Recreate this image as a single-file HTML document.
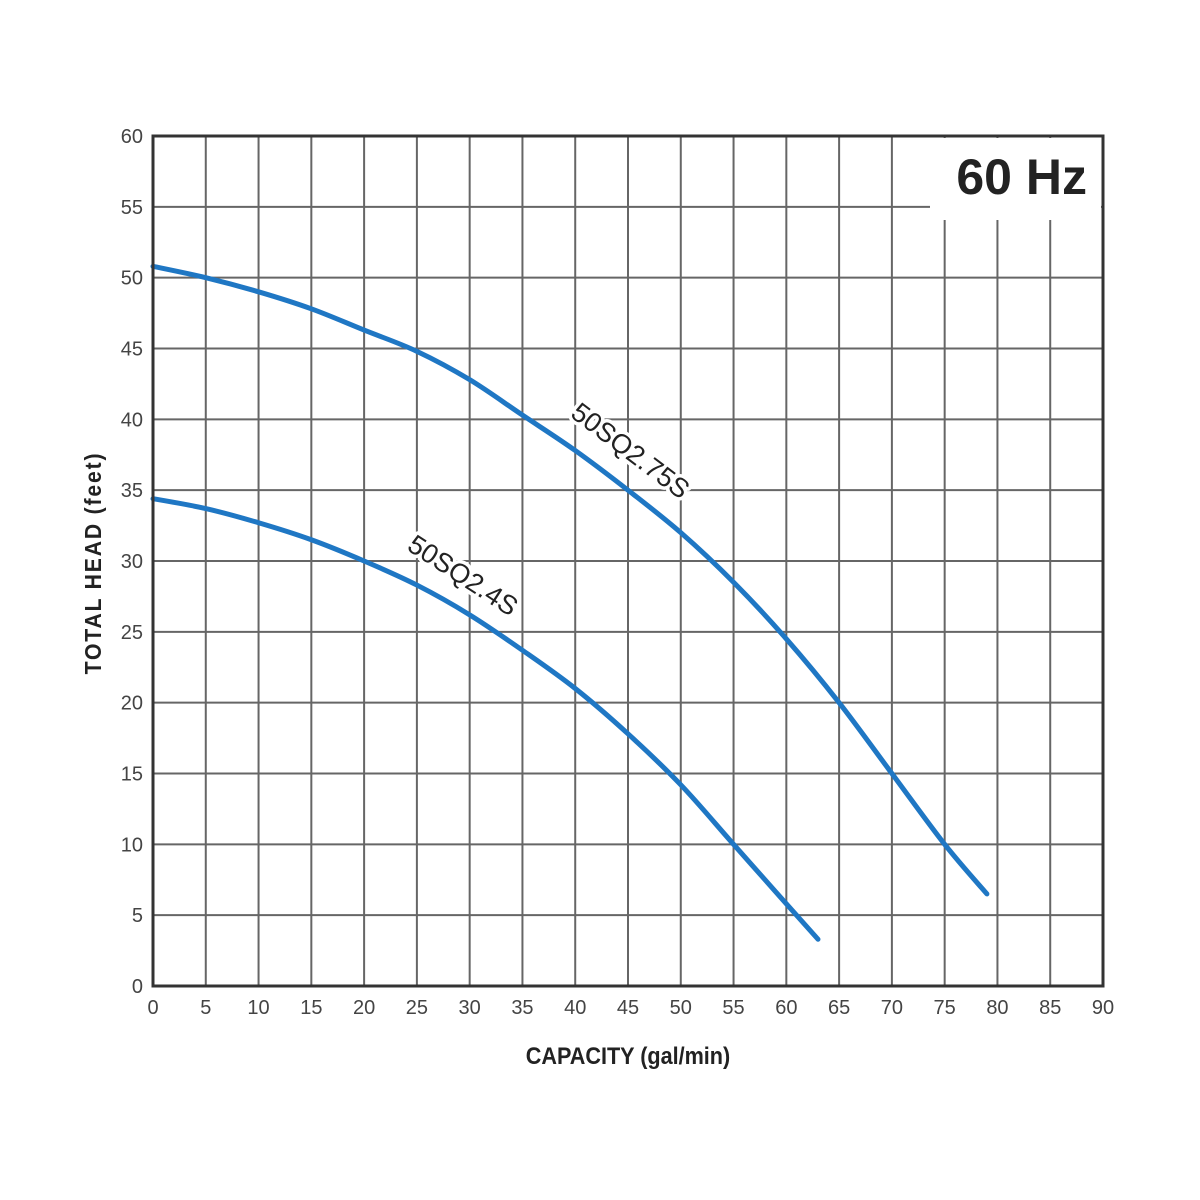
<!DOCTYPE html>
<html><head><meta charset="utf-8"><style>
html,body{margin:0;padding:0;background:#fff;}
svg{display:block;font-family:"Liberation Sans",sans-serif;}
</style></head><body>
<svg id="chart" width="1200" height="1200" viewBox="0 0 1200 1200">
<g id="grid"></g>
<g id="ticks"></g>
<g id="curves"></g>
<rect x="930" y="138" width="171" height="82" fill="#fff"/>
<text x="1087" y="194" text-anchor="end" font-size="50" font-weight="bold" fill="#222">60 Hz</text>
<rect x="153" y="136" width="950" height="850" fill="none" stroke="#333" stroke-width="3"/>
<text x="628" y="1064" text-anchor="middle" font-size="24" font-weight="bold" fill="#222" transform="translate(628 1064) scale(0.9 1) translate(-628 -1064)">CAPACITY (gal/min)</text>
<text x="0" y="0" text-anchor="middle" font-size="23" font-weight="bold" fill="#222" letter-spacing="2" transform="translate(101 563) rotate(-90) scale(0.92 1)">TOTAL HEAD (feet)</text>
</svg>
<script>
const xTicks=[0,5,10,15,20,25,30,35,40,45,50,55,60,65,70,75,80,85,90];
const yTicks=[0,5,10,15,20,25,30,35,40,45,50,55,60];
const flowA=[0,5,10,15,20,25,30,35,40,45,50,55,60,65,70,75,79];
const headA=[50.8,50,49,47.8,46.3,44.8,42.8,40.3,37.8,35,32,28.5,24.5,20,15,10,6.5];
const flowB=[0,5,10,15,20,25,30,35,40,45,50,55,60,63];
const headB=[34.4,33.7,32.7,31.5,30,28.3,26.2,23.7,21,17.8,14.2,10,5.8,3.3];
const seriesNames=["50SQ2.75S","50SQ2.4S"];
const X0=153,X1=1103,Y0=986,Y1=136;
const sx=v=>X0+(v/90)*(X1-X0);
const sy=v=>Y0-(v/60)*(Y0-Y1);
const NS="http://www.w3.org/2000/svg";
function mk(t,a,p){const e=document.createElementNS(NS,t);for(const k in a)e.setAttribute(k,a[k]);p.appendChild(e);return e;}
const grid=document.getElementById('grid'),ticks=document.getElementById('ticks'),curves=document.getElementById('curves');
xTicks.forEach(v=>{
  const l=mk('line',{x1:sx(v),x2:sx(v),y1:Y1,y2:Y0,stroke:'#666','stroke-width':2},grid);
  
  
  const t=mk('text',{x:sx(v),y:1014,'text-anchor':'middle','font-size':20,fill:'#444'},ticks);
  t.textContent=v;
  
  
});
yTicks.forEach(v=>{
  const l=mk('line',{x1:X0,x2:X1,y1:sy(v),y2:sy(v),stroke:'#666','stroke-width':2},grid);
  
  
  const t=mk('text',{x:143,y:sy(v)+7,'text-anchor':'end','font-size':20,fill:'#444'},ticks);
  t.textContent=v;
  
  
});
function path(xs,ys){
  const p=xs.map((x,i)=>[sx(x),sy(ys[i])]);
  let d='M'+p[0][0]+','+p[0][1];
  for(let i=0;i<p.length-1;i++){
    const p0=p[i-1]||p[i],p1=p[i],p2=p[i+1],p3=p[i+2]||p2;
    const c1=[p1[0]+(p2[0]-p0[0])/6,p1[1]+(p2[1]-p0[1])/6],c2=[p2[0]-(p3[0]-p1[0])/6,p2[1]-(p3[1]-p1[1])/6];
    d+=` C${c1[0]},${c1[1]} ${c2[0]},${c2[1]} ${p2[0]},${p2[1]}`;
  }
  return d;
}
const a=mk('path',{d:path(flowA,headA),fill:'none',stroke:'#1f77c4','stroke-width':5,'stroke-linecap':'round'},curves);


const b=mk('path',{d:path(flowB,headB),fill:'none',stroke:'#1f77c4','stroke-width':5,'stroke-linecap':'round'},curves);


function label(txt,x,y,ang,name){
  const t=mk('text',{x:0,y:0,'text-anchor':'middle','font-size':27,fill:'#222',stroke:'#fff','stroke-width':7,'paint-order':'stroke','stroke-linejoin':'round',transform:`translate(${x} ${y}) rotate(${ang})`},curves);
  t.textContent=txt;
  
  
}
label(seriesNames[0],625,458,37,'label-50sq2-75s');
label(seriesNames[1],458,583,33,'label-50sq2-4s');
</script>
</body></html>
